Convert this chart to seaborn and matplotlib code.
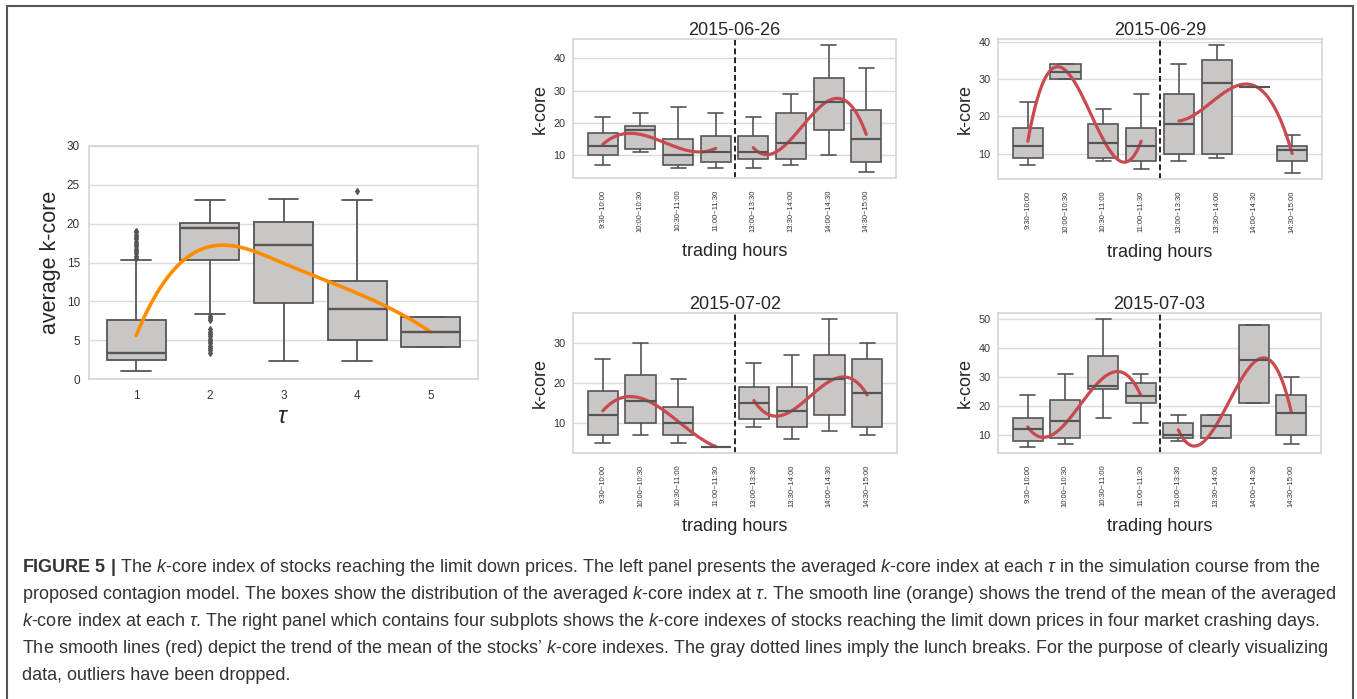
import numpy as np
import pandas as pd
import matplotlib
matplotlib.use('Agg')
import matplotlib.pyplot as plt
from matplotlib.ticker import MultipleLocator
import seaborn as sns

tau = ['1', '2', '3', '4', '5']
tau_lo = [1.0, 8.4, 2.3, 2.3, 4.15]
tau_q1 = [2.45, 15.35, 9.75, 5.05, 4.15]
tau_med = [3.4, 19.4, 17.25, 9.0, 6.05]
tau_q3 = [7.65, 20.05, 20.2, 12.65, 8.0]
tau_hi = [15.35, 23.1, 23.2, 23.05, 8.0]
tau_out = [[15.6, 15.9, 16.2, 16.5, 16.8, 17.1, 17.4, 17.7, 18.0, 18.3, 18.6, 18.9, 19.1],
           [3.4, 3.7, 4.0, 4.3, 4.6, 4.9, 5.2, 5.5, 5.8, 6.1, 6.4, 7.6, 7.9, 8.1],
           [], [24.2], []]
tau_mean = [5.6, 17.05, 14.9, 11.05, 6.05]

# Right panel: trading hours, boxes (lo, q1, median, q3, hi) and mean per slot
hours = ['9:30~10:00', '10:00~10:30', '10:30~11:00', '11:00~11:30',
         '13:00~13:30', '13:30~14:00', '14:00~14:30', '14:30~15:00']
days = ['2015-06-26', '2015-06-29', '2015-07-02', '2015-07-03']

box_0626 = [(7, 10, 13, 17, 22), (11, 12, 18, 19, 23), (6, 7, 10, 15.2, 25), (6, 8, 11, 16, 23),
            (6, 9, 11, 16, 22), (7, 9, 14, 23, 29), (10, 18, 26.6, 34, 44), (5, 8, 15, 24, 37)]
box_0629 = [(7, 9, 12, 17, 24), (30, 30, 32, 34, 34), (8, 9, 13, 18, 22), (6, 8, 12, 17, 26),
            (8, 10, 18, 26, 34), (9, 10, 29, 35, 39), (28, 28, 28, 28, 28), (5, 8, 11, 12, 15)]
box_0702 = [(5, 7, 12, 18, 26), (7, 10, 15.5, 22, 30), (5, 7, 10, 14, 21), (4, 4, 4, 4, 4),
            (9, 11, 15, 19, 25), (6, 9, 13, 19, 27), (8, 12, 21, 27, 36), (7, 9, 17.5, 26, 30)]
box_0703 = [(6, 8, 12, 16, 24), (7, 9, 15, 22, 31), (16, 26, 27, 37.3, 50), (14, 21, 23.6, 28, 31),
            (8, 9, 10, 14, 17), (9, 9, 13, 17, 17), (21, 21, 36, 48, 48), (7, 10, 17.5, 24, 30)]

mean_0626 = [13.4, 16.5, 12.4, 12.2, 12.4, 15.0, 26.9, 16.5]
mean_0629 = [13.4, 32.3, 13.8, 13.4, 18.8, 24.9, 28.2, 10.1]
mean_0702 = [13.0, 16.2, 10.3, 4.0, 15.6, 13.0, 20.4, 17.0]
mean_0703 = [12.8, 14.0, 29.7, 23.8, 11.8, 13.3, 35.0, 18.0]

boxes = [box_0626, box_0629, box_0702, box_0703]
means = [mean_0626, mean_0629, mean_0702, mean_0703]

sns.set_theme(style='whitegrid', rc={'axes.edgecolor': '.84', 'grid.color': '.86'})
plt.rcParams['font.family'] = ['Liberation Sans', 'DejaVu Sans']
plt.rcParams['mathtext.fontset'] = 'custom'
plt.rcParams['mathtext.rm'] = 'Liberation Sans'
plt.rcParams['mathtext.it'] = 'Liberation Sans:italic'
plt.rcParams['mathtext.bf'] = 'Liberation Sans:bold'

box_color = '#c9c6c5'
line_color = '#555555'


def sample(lo, q1, med, q3, hi, extra=()):
    # a sample whose quartiles / whiskers reproduce the read summary
    return [lo] + [q1] * 60 + [med] * 60 + [q3] * 60 + [hi] + list(extra)


def smooth(xk, yk, xs):
    # not-a-knot cubic spline through the means
    xk = np.asarray(xk, float)
    knots = xk[2:-2]

    def basis(v):
        cols = [v ** p for p in range(4)] + [np.clip(v - k, 0, None) ** 3 for k in knots]
        return np.column_stack(cols)
    coef = np.linalg.solve(basis(xk), np.asarray(yk, float))
    return basis(xs) @ coef


def draw_box(ax, df, order, lw=1.2):
    sns.boxplot(data=df, x='cat', y='val', order=order, color=box_color, saturation=1,
                linecolor=line_color, linewidth=lw, width=0.8, fliersize=3,
                flierprops=dict(marker='d', markerfacecolor=line_color, markeredgecolor=line_color),
                medianprops=dict(linewidth=lw * 1.3),
                ax=ax)


W, H = 1357, 699
fig = plt.figure(figsize=(W / 100, H / 100), dpi=100)


def px_axes(l, t, r, b):
    return fig.add_axes([l / W, 1 - b / H, (r - l) / W, (b - t) / H])


# ---- left panel
ax = px_axes(89, 146, 478, 379)
rows = []
for i, t in enumerate(tau):
    for v in sample(tau_lo[i], tau_q1[i], tau_med[i], tau_q3[i], tau_hi[i], tau_out[i]):
        rows.append((t, v))
df_tau = pd.DataFrame(rows, columns=['cat', 'val'])
draw_box(ax, df_tau, tau, lw=1.3)
xs = np.linspace(0, 4, 200)
ax.plot(xs, smooth(np.arange(5), tau_mean, xs), color='#ff8c00', lw=2.6)
ax.set_ylim(0, 30)
ax.yaxis.set_major_locator(MultipleLocator(5))
ax.set_xlabel(r'$\tau$', fontsize=17, labelpad=3)
ax.set_ylabel('average k-core', fontsize=15.5, labelpad=4)
ax.tick_params(axis='x', labelsize=8.5, colors='#333333', pad=8, length=0)
ax.tick_params(axis='y', labelsize=8.5, colors='#333333', pad=6.5, length=0)

# ---- right panels
pos = [(573, 39, 896, 178), (998, 39, 1322, 179), (573, 313, 897, 453), (998, 313, 1321, 453)]
for k, day in enumerate(days):
    ax = px_axes(*pos[k])
    rows = []
    for h, b in zip(hours, boxes[k]):
        for v in sample(*b):
            rows.append((h, v))
    df_day = pd.DataFrame(rows, columns=['cat', 'val'])
    draw_box(ax, df_day, hours)
    for part in (np.arange(0, 4), np.arange(4, 8)):
        xs = np.linspace(part[0], part[-1], 120)
        ys = smooth(part, [means[k][i] for i in part], xs)
        ax.plot(xs, ys, color='#c8494f', lw=2.3)
    ax.axvline(3.5, color='black', ls=(0, (3.5, 1.8)), lw=1.2)
    ax.yaxis.set_major_locator(MultipleLocator(10))
    ax.set_title(day, fontsize=13, pad=3)
    ax.set_xlabel('trading hours', fontsize=13, labelpad=7.5)
    ax.set_ylabel('k-core', fontsize=13, labelpad=3)
    ax.tick_params(axis='x', labelsize=5.5, rotation=90, colors='#333333', pad=8.5, length=0)
    ax.tick_params(axis='y', labelsize=7.8, colors='#333333', pad=5.5, length=0)

# ---- caption
caption = [
    r"$\mathbf{FIGURE\ 5\ |}$ The $\mathit{k}$-core index of stocks reaching the limit down prices. "
    r"The left panel presents the averaged $\mathit{k}$-core index at each $\tau$ in the simulation course from the",
    r"proposed contagion model. The boxes show the distribution of the averaged $\mathit{k}$-core index at $\tau$. "
    r"The smooth line (orange) shows the trend of the mean of the averaged",
    r"$\mathit{k}$-core index at each $\tau$. The right panel which contains four subplots shows the "
    r"$\mathit{k}$-core indexes of stocks reaching the limit down prices in four market crashing days.",
    r"The smooth lines (red) depict the trend of the mean of the stocks’ $\mathit{k}$-core indexes. "
    r"The gray dotted lines imply the lunch breaks. For the purpose of clearly visualizing",
    r"data, outliers have been dropped.",
]
for i, line in enumerate(caption):
    fig.text(22 / W, 1 - (572 + 27 * i) / H, line, fontsize=13.0, color='#333333', va='baseline')

# outer frame
fig.add_artist(plt.Rectangle((7 / W, -0.01), (1353 - 7) / W, 1.01 - 6 / H, transform=fig.transFigure,
                             fill=False, edgecolor='#555555', lw=1.5))

fig.savefig('out.png', dpi=100)
